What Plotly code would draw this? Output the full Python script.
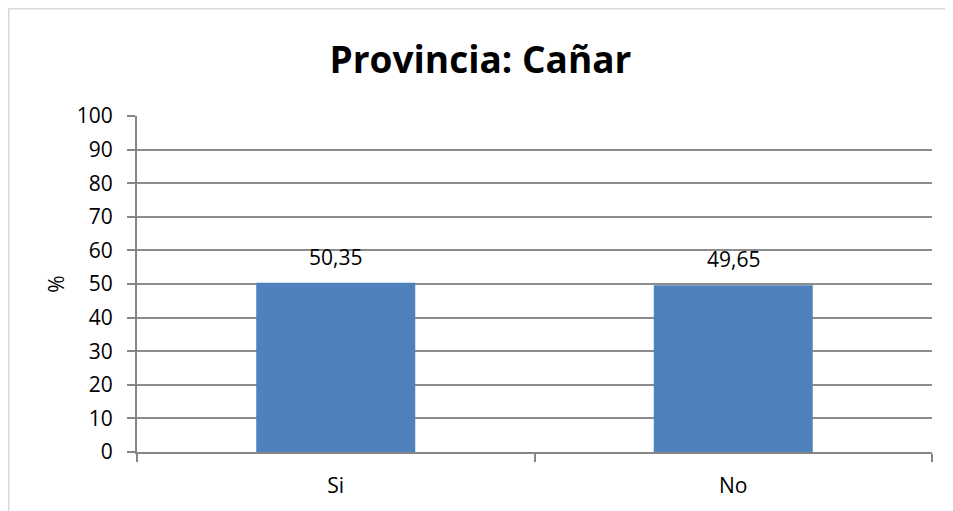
import plotly.graph_objects as go

categories = ["Si", "No"]
values = [50.35, 49.65]
y_ticks = [0, 10, 20, 30, 40, 50, 60, 70, 80, 90, 100]

# page shows the figure offset by the 8px default body margin
W, H = 945, 503
ml, mr, mt, mb = 129, 21, 108, 59
pw, ph = W - ml - mr, H - mt - mb

fig = go.Figure(go.Bar(
    x=categories, y=values,
    marker=dict(color="#4F81BD", line=dict(width=0)),
    hoverinfo="x+y",
))

for c, v in zip(categories, values):
    fig.add_annotation(
        x=c, y=v, text=f"{v:.2f}".replace(".", ","),
        showarrow=False, yanchor="bottom", yshift=10,
        font=dict(size=21, color="#000000", family="Open Sans"),
    )

fig.update_layout(
    width=W, height=H,
    margin=dict(l=ml, r=mr, t=mt, b=mb),
    paper_bgcolor="white", plot_bgcolor="white",
    separators=", ",
    bargap=0.6,
    showlegend=False,
    title=dict(text="<b>Provincia: Cañar</b>", x=0.5, xanchor="center",
               y=1 - 52 / H, yanchor="middle",
               font=dict(size=37, family="Open Sans", color="#000000")),
    font=dict(family="Open Sans", color="#000000", size=21),
)

fig.update_xaxes(
    type="category", tickson="boundaries", ticks="outside", ticklen=8,
    tickcolor="#868686", tickwidth=2, showline=True, linecolor="#868686", linewidth=2,
    showgrid=False, tickfont=dict(size=21), ticklabelstandoff=14,
)
fig.update_yaxes(
    range=[0, 100], tickvals=y_ticks, ticks="outside", ticklen=8,
    tickcolor="#868686", tickwidth=2, showline=True, linecolor="#868686", linewidth=2,
    showgrid=True, gridcolor="#8C8C8C", gridwidth=2,
    tickfont=dict(size=21), zeroline=False, ticklabelstandoff=10,
    title=dict(text="%", font=dict(size=21), standoff=6),
)

# outer chart frame (top and left edges visible)
fig.add_shape(type="rect", xref="paper", yref="paper",
              x0=(0.75 - ml) / pw, x1=(W + 20 - ml) / pw,
              y0=(H - mb - (H + 20)) / ph, y1=(H - mb - 0.75) / ph,
              line=dict(color="#D9D9D9", width=1.5), fillcolor="rgba(0,0,0,0)",
              layer="below")

fig.write_html("out.html")
